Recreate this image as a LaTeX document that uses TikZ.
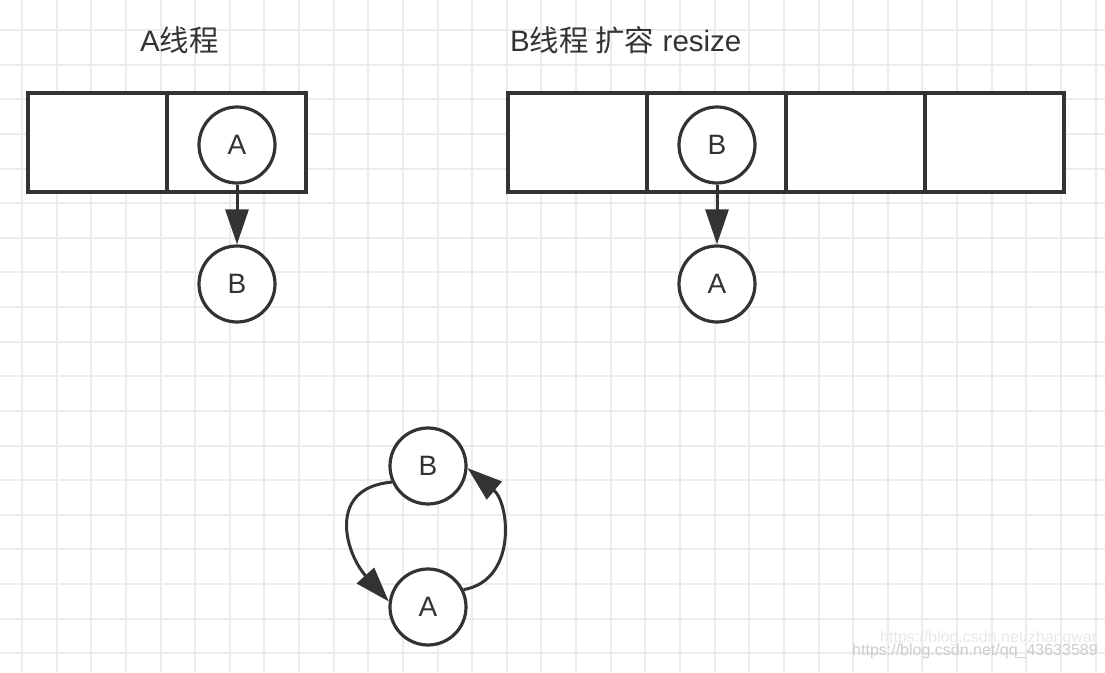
\documentclass[tikz,border=0pt]{standalone}
\usepackage{fontspec}
\setmainfont{Liberation Sans}
\newfontfamily\cjk{Noto Sans CJK SC}
\usetikzlibrary{arrows.meta}
\definecolor{inkgray}{HTML}{333333}
\definecolor{gridgray}{HTML}{ECECEC}

\begin{document}
\begin{tikzpicture}[x=1pt, y=1pt,
    gridline/.style={gridgray, line width=2pt},
    slot/.style={draw=inkgray, fill=white, line width=4pt},
    entry/.style={circle, draw=inkgray, line width=3.2pt, fill=white, minimum size=76pt,
      inner sep=0pt, text=inkgray, font=\fontsize{28}{30}\selectfont},
    link/.style={draw=inkgray, line width=3pt, -{Triangle[length=35pt, width=23pt]}},
    title/.style={anchor=west, inner sep=0pt, text=inkgray, font=\fontsize{29.5}{34}\selectfont}]
		\useasboundingbox (0,0) rectangle (1105,672);
		
		% background grid
		\foreach \i in {0,...,31}
			\draw[gridline] ({22+34.63*\i},0) -- ++(0,672);
		\foreach \j in {0,...,18}
			\draw[gridline] (0,{642-34.63*\j}) -- ++(1105,0);
		
		% titles
		\node[title] (titleA) at (140,632) {A{\cjk 线程}};
		\node[title] (titleB) at (510,632) {B{\cjk 线程 扩容} resize};
		
		% table seen by thread A
		\foreach \x in {28,167}
			\draw[slot] (\x,480) rectangle ++(139,99);
		\node[entry] (a1) at (237,527) {A};
		\node[entry] (b1) at (237,388) {B};
		\draw[link] (a1) -- (b1);
		
		% table after resize by thread B
		\foreach \x in {508,647,786,925}
			\draw[slot] (\x,480) rectangle ++(139,99);
		\node[entry] (b2) at (717,527) {B};
		\node[entry] (a2) at (717,388) {A};
		\draw[link] (b2) -- (a2);
		
		% the resulting loop
		\node[entry] (b3) at (428,206) {B};
		\node[entry] (a3) at (428,65) {A};
		\draw[link] (b3.204) to[out=185, in=132, looseness=1.4] (a3.172);
		\draw[link] (a3.26) to[out=10, in=320, looseness=1.15] (b3.-3);
		
		% watermark
		\node[anchor=west, inner sep=0pt, text=gray!18, font=\fontsize{16}{18}\selectfont] (mark2) at (880,34) {https://blog.csdn.net/zhangwar};
		\node[anchor=west, inner sep=0pt, text=gray!40, font=\fontsize{16}{18}\selectfont] (mark1) at (852,21) {https://blog.csdn.net/qq\_43633589};
	\end{tikzpicture}
\end{document}
